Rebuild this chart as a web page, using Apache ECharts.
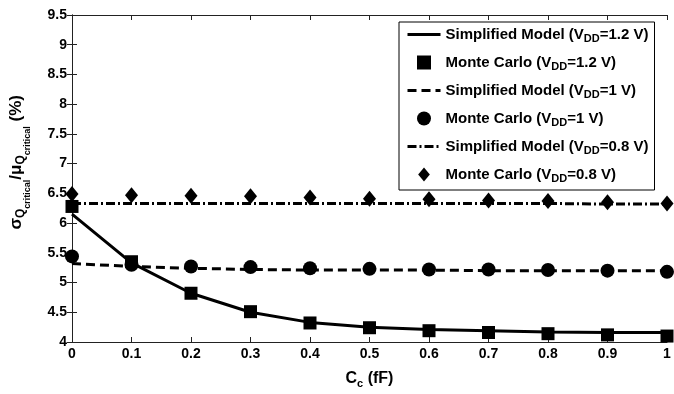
<!DOCTYPE html>
<html><head><meta charset="utf-8">
<script src="https://cdn.jsdelivr.net/npm/echarts@6/dist/echarts.min.js"></script>
<style>html,body{margin:0;padding:0;background:#fff}#c{width:674px;height:394px}</style>
</head><body><div id="c"></div>
<script>
const xVals = [0, 0.1, 0.2, 0.3, 0.4, 0.5, 0.6, 0.7, 0.8, 0.9, 1.0];
const simp12 = [6.15, 5.33, 4.82, 4.50, 4.33, 4.25, 4.21, 4.19, 4.17, 4.16, 4.16];
const mc12   = [6.28, 5.35, 4.82, 4.51, 4.32, 4.24, 4.19, 4.16, 4.14, 4.12, 4.10];
const simp10 = [5.32, 5.27, 5.24, 5.22, 5.21, 5.21, 5.21, 5.20, 5.20, 5.20, 5.20];
const mc10   = [5.44, 5.30, 5.27, 5.26, 5.24, 5.23, 5.22, 5.22, 5.21, 5.20, 5.18];
const simp08 = [6.33, 6.33, 6.33, 6.33, 6.33, 6.33, 6.33, 6.33, 6.33, 6.32, 6.32];
const mc08   = [6.49, 6.47, 6.46, 6.45, 6.43, 6.41, 6.40, 6.38, 6.37, 6.35, 6.33];
const names = ['Simplified Model (VDD=1.2 V)', 'Monte Carlo (VDD=1.2 V)',
  'Simplified Model (VDD=1 V)', 'Monte Carlo (VDD=1 V)',
  'Simplified Model (VDD=0.8 V)', 'Monte Carlo (VDD=0.8 V)'];

const pair = a => xVals.map((x, i) => [x, a[i]]);
const FONT = 'Liberation Sans';
const chart = echarts.init(document.getElementById('c'), null, {renderer: 'canvas'});

const DASH = [9, 5], DASHDOT = [9, 3, 2, 3];
function lineSeries(name, data, type) {
  return {name, type: 'line', data: pair(data), showSymbol: false, symbol: 'none', z: 2,
    lineStyle: {color: '#000', width: 3, type: type}, itemStyle: {color: '#000'}};
}
function scatterSeries(name, data, symbol, size) {
  return {name, type: 'scatter', data: pair(data), symbol, symbolSize: size, z: 3,
    itemStyle: {color: '#000', opacity: 1}};
}
const tickLabel = {color: '#000', fontFamily: FONT, fontWeight: 'bold', fontSize: 14};
const axisLine = {show: true, lineStyle: {color: '#222', width: 1}};
const axisTick = {show: true, inside: true, length: 5, lineStyle: {color: '#222'}};

const hidden = {color: 'rgba(0,0,0,0)', borderColor: 'rgba(0,0,0,0)', borderWidth: 0, opacity: 0};
const icons = {
  rect: 'path://M0,0L10,0L10,10L0,10Z',
  circle: 'path://M0,5A5,5,0,1,1,10,5A5,5,0,1,1,0,5Z',
  diamond: 'path://M5,0L10,6L5,12L0,6Z'
};
const legendData = [
  {name: names[0], itemStyle: hidden, lineStyle: {width: 3, color: '#000', type: 'solid'}},
  {name: names[1], icon: icons.rect},
  {name: names[2], itemStyle: hidden, lineStyle: {width: 3, color: '#000', type: DASH}},
  {name: names[3], icon: icons.circle},
  {name: names[4], itemStyle: hidden, lineStyle: {width: 3, color: '#000', type: DASHDOT}},
  {name: names[5], icon: icons.diamond}
];

chart.setOption({
  animation: false,
  grid: {left: 72, right: 7, top: 15, bottom: 50},
  xAxis: [{
    type: 'value', min: 0, max: 1, interval: 0.1, position: 'bottom',
    axisLine, axisTick, splitLine: {show: false},
    axisLabel: Object.assign({margin: 5}, tickLabel),
    name: '{a|C}{s|c}{a| (fF)}', nameLocation: 'middle', nameGap: 27,
    nameTextStyle: {rich: {
      a: {fontFamily: FONT, fontWeight: 'bold', fontSize: 16, color: '#000', lineHeight: 18},
      s: {fontFamily: FONT, fontWeight: 'bold', fontSize: 11, color: '#000', padding: [9, 0, 0, 0]}
    }}
  }, {
    type: 'value', min: 0, max: 1, interval: 0.1, position: 'top',
    axisLine, axisTick, splitLine: {show: false}, axisLabel: {show: false}
  }],
  yAxis: [{
    type: 'value', min: 4, max: 9.5, interval: 0.5, position: 'left',
    axisLine, axisTick, splitLine: {show: false},
    axisLabel: Object.assign({margin: 5}, tickLabel)
  }, {
    type: 'value', min: 4, max: 9.5, interval: 0.5, position: 'right',
    axisLine, axisTick, splitLine: {show: false}, axisLabel: {show: false}
  }],
  legend: {
    orient: 'vertical', left: 399, top: 22,
    data: legendData, symbolKeepAspect: true,
    backgroundColor: '#fff', borderColor: '#000', borderWidth: 1,
    padding: [5, 6, 6, 7], itemGap: 11, itemWidth: 33, itemHeight: 14,
    formatter: function (n) {
      const m = n.match(/^(.*\(V)DD(=.*)$/);
      return '{a|' + m[1] + '}{s|DD}{a|' + m[2] + '}';
    },
    textStyle: {rich: {
      a: {fontFamily: FONT, fontWeight: 'bold', fontSize: 15, color: '#000', lineHeight: 18},
      s: {fontFamily: FONT, fontWeight: 'bold', fontSize: 11, color: '#000', padding: [8, 0, 0, 0]}
    }}
  },
  graphic: [{
    type: 'text', left: 8, top: 95, rotation: Math.PI / 2,
    style: {
      text: '{g|σ}{q|Q}{c|critical}{g|/μ}{q|Q}{c|critical}{g| (%)}',
      rich: {
        g: {fontFamily: FONT, fontWeight: 'bold', fontSize: 17, color: '#000', lineHeight: 30, verticalAlign: 'top'},
        q: {fontFamily: FONT, fontWeight: 'bold', fontSize: 12, color: '#000', padding: [7, 0, 0, 0], verticalAlign: 'top'},
        c: {fontFamily: FONT, fontWeight: 'bold', fontSize: 9, color: '#000', padding: [15, 0, 0, 0], verticalAlign: 'top'}
      }
    }
  }],
  series: [
    lineSeries(names[0], simp12, 'solid'),
    scatterSeries(names[1], mc12, 'rect', 13),
    lineSeries(names[2], simp10, DASH),
    scatterSeries(names[3], mc10, 'circle', 14),
    lineSeries(names[4], simp08, DASHDOT),
    scatterSeries(names[5], mc08, 'diamond', [13, 16])
  ]
});
</script></body></html>
